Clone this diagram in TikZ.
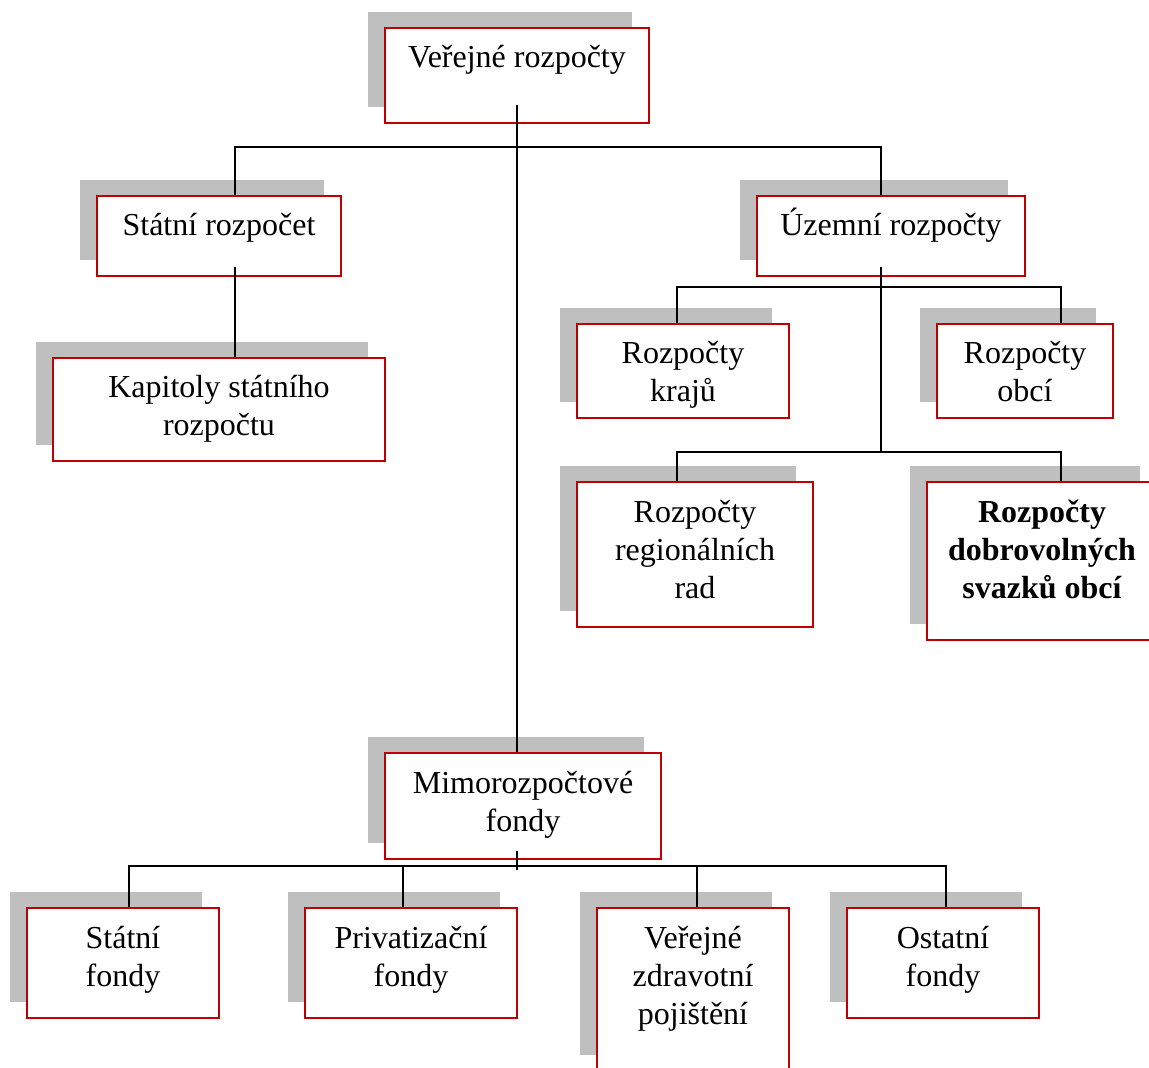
\documentclass[tikz,border=0pt]{standalone}
\usepackage{fontspec}
\setmainfont{Liberation Serif}
\usetikzlibrary{shadows,calc}
\definecolor{orgred}{RGB}{192,0,0}
\definecolor{shadowgray}{RGB}{191,191,191}
\newcommand{\orgtext}[3]{\parbox[c][#2][t]{#1}{\centering\rule{0pt}{20pt}#3}}
\begin{document}
\begin{tikzpicture}[x=0.5pt, y=-0.5pt,
  org/.style={draw=orgred, line width=1pt, fill=white, inner sep=0pt,
    font=\fontsize{16}{19}\selectfont,
    general shadow={fill=shadowgray, shadow xshift=-8.5pt, shadow yshift=8pt}},
  link/.style={line width=1pt}]
\useasboundingbox (0,0) rectangle (1149,1068);
% boxes
\node[org] (ver) at (517,75.5) {\orgtext{132pt}{47.5pt}{Veřejné rozpočty}};
\node[org] (stat) at (219,236) {\orgtext{122pt}{40pt}{Státní rozpočet}};
\node[org] (uzem) at (891,236) {\orgtext{134pt}{40pt}{Územní rozpočty}};
\node[org] (kap) at (219,409.5) {\orgtext{166pt}{51.5pt}{Kapitoly státního\\rozpočtu}};
\node[org] (kraj) at (683,371) {\orgtext{106pt}{47pt}{Rozpočty\\krajů}};
\node[org] (obci) at (1025,371) {\orgtext{88pt}{47pt}{Rozpočty\\obcí}};
\node[org] (reg) at (695,554.5) {\orgtext{118pt}{72.5pt}{Rozpočty\\regionálních\\rad}};
\node[org] (dso) at (1042,561) {\orgtext{115pt}{79pt}{\bfseries Rozpočty\\dobrovolných\\svazků obcí}};
\node[org] (mimo) at (523,806) {\orgtext{138pt}{53pt}{Mimorozpočtové\\fondy}};
\node[org] (sf) at (123,963) {\orgtext{96pt}{55pt}{Státní\\fondy}};
\node[org] (pf) at (411,963) {\orgtext{106pt}{55pt}{Privatizační\\fondy}};
\node[org] (vzp) at (693,989.5) {\orgtext{96pt}{81.5pt}{Veřejné\\zdravotní\\pojištění}};
\node[org] (ost) at (943,963) {\orgtext{96pt}{55pt}{Ostatní\\fondy}};
% junctions
\coordinate (bus1w) at (235,147);
\coordinate (bus1e) at (881,147);
\coordinate (bus2w) at (677,287);
\coordinate (bus2e) at (1061,287);
\coordinate (bus3w) at (677,452);
\coordinate (bus3e) at (1061,452);
\coordinate (bus4w) at (129,866);
\coordinate (bus4b) at (403,866);
\coordinate (bus4c) at (697,866);
\coordinate (bus4e) at (946,866);
% connectors
\draw[link] ($(ver.south)+(0,-19)$) -- (ver.south |- mimo.north);
\draw[link] (bus1w |- stat.north) -- (bus1w) -- (bus1e) -- (bus1e |- uzem.north);
\draw[link] ($(bus1w |- stat.south)+(0,-10)$) -- (bus1w |- kap.north);
\draw[link] ($(bus1e |- uzem.south)+(0,-10)$) -- (bus3e -| bus1e);
\draw[link] (bus2w |- kraj.north) -- (bus2w) -- (bus2e) -- (bus2e |- obci.north);
\draw[link] (bus3w |- reg.north) -- (bus3w) -- (bus3e) -- (bus3e |- dso.north);
\draw[link] ($(ver.south |- mimo.south)+(0,-9)$) -- ($(ver.south |- bus4w)+(0,4)$);
\draw[link] (bus4w |- sf.north) -- (bus4w) -- (bus4e) -- (bus4e |- ost.north);
\draw[link] (bus4b) -- (bus4b |- pf.north);
\draw[link] (bus4c) -- (bus4c |- vzp.north);
\end{tikzpicture}
\end{document}
